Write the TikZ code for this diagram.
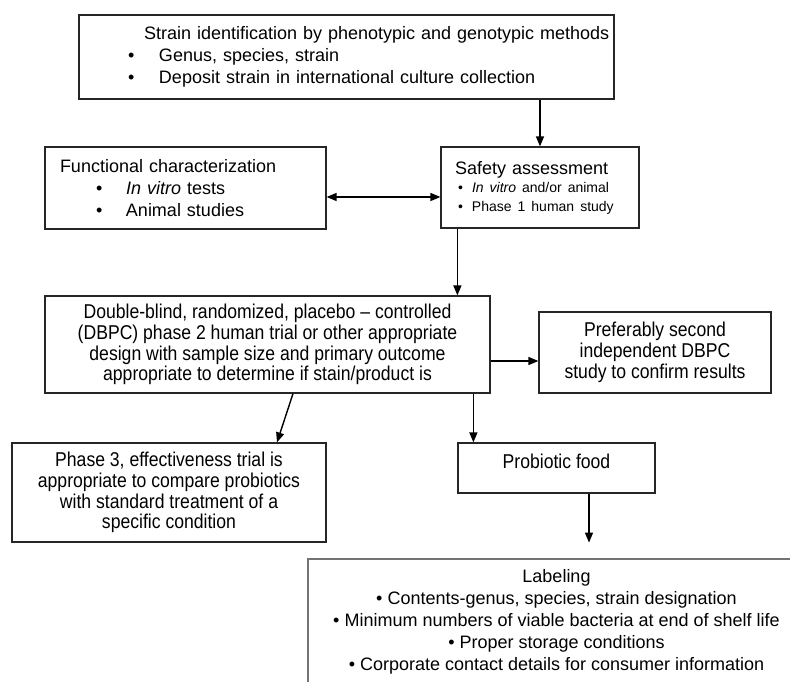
\documentclass[tikz,border=0pt]{standalone}
\usepackage{fontspec}
\setmainfont{Liberation Sans}
\newfontfamily\narrowfont[FakeStretch=0.88]{Liberation Sans}
\usetikzlibrary{arrows.meta}
\newcommand\bulitem[1]{\makebox[#1][l]{\textbullet}}

\begin{document}
\begin{tikzpicture}[x=1pt, y=-1pt,
	box/.style={draw=black!85, line width=1.2pt, inner sep=0pt},
	plain/.style={font={\fontsize{18}{22}\selectfont}},
	narrow/.style={font={\narrowfont\fontsize{20}{20.8}\selectfont}, align=center},
	arr/.style={line width=1.4pt, -{Triangle[length=10pt,width=8pt]}},
	darr/.style={line width=1.4pt, {Triangle[length=10pt,width=8pt]}-{Triangle[length=10pt,width=8pt]}}]
		%%%%% START %%%%%
		\useasboundingbox (0,0) rectangle (790,682);
		\clip (0,0) rectangle (790,682);
		
		\node[box, plain, minimum width=535pt, minimum height=84pt, text width=535pt, align=left] (strain) at (346.5,57)
			{\hspace*{65pt}Strain identification by phenotypic and genotypic methods\\
			 \hspace*{49pt}\bulitem{31pt}Genus, species, strain\\
			 \hspace*{49pt}\bulitem{31pt}Deposit strain in international culture collection};
		
		\node[box, plain, minimum width=281pt, minimum height=82pt, text width=251pt, align=left] (func) at (185.5,188)
			{Functional characterization\\
			 \hspace*{36pt}\bulitem{30pt}\textit{In vitro} tests\\
			 \hspace*{36pt}\bulitem{30pt}Animal studies};
		
		\node[box, plain, minimum width=198pt, minimum height=81pt, text width=170pt, align=left] (safety) at (540,187.5)
			{Safety assessment\par
			 {\fontsize{14}{18.5}\selectfont
			 \hspace*{3pt}\bulitem{14pt}\textit{In vitro} and/or animal\\
			 \hspace*{3pt}\bulitem{14pt}Phase 1 human study\par}};
		
		\node[box, narrow, minimum width=445pt, minimum height=97pt] (dbpc) at (267.5,344.5)
			{Double-blind, randomized, placebo – controlled\\
			 (DBPC) phase 2 human trial or other appropriate\\
			 design with sample size and primary outcome\\
			 appropriate to determine if stain/product is};
		
		\node[box, narrow, minimum width=232pt, minimum height=81pt] (pref) at (655,352.5)
			{Preferably second\\ independent DBPC\\ study to confirm results};
		
		\node[box, narrow, minimum width=314pt, minimum height=99pt] (phase) at (169,492.5)
			{Phase 3, effectiveness trial is\\ appropriate to compare probiotics\\
			 with standard treatment of a\\ specific condition};
		
		\node[box, narrow, minimum width=197pt, inner ysep=8pt, text height=17pt, text depth=17pt] (food) at (556.5,468)
			{Probiotic food};
		
		\node[box, draw=black!55, plain, minimum width=497pt, minimum height=126pt, align=center] (label) at (556.5,622)
			{Labeling\\
			 \textbullet\ Contents-genus, species, strain designation\\
			 \textbullet\ Minimum numbers of viable bacteria at end of shelf life\\
			 \textbullet\ Proper storage conditions\\
			 \textbullet\ Corporate contact details for consumer information};
		
		% connectors
		\draw[arr] (strain.south -| safety.north) -- (safety.north);
		\draw[darr] ([yshift=-9pt]func.east) -- ([yshift=-9pt]func.east -| safety.west);
		\draw[arr] ([xshift=17pt]safety.south west) -- ([xshift=17pt]safety.south west |- dbpc.north);
		\draw[arr] ([yshift=-16.5pt]dbpc.east) -- ([yshift=-16.5pt]dbpc.east -| pref.west);
		\draw[arr] ([xshift=25.5pt]dbpc.south) -- ([xshift=108pt]phase.north);
		\draw[arr] ([xshift=16pt]food.north west |- dbpc.south) -- ([xshift=16pt]food.north west);
		
		\coordinate (foodend) at ([xshift=32.5pt, yshift=-49pt]food.south);
		\draw[arr] ([xshift=32.5pt]food.south) -- (foodend);
		
		%%%%% END %%%%%
\end{tikzpicture}
\end{document}
